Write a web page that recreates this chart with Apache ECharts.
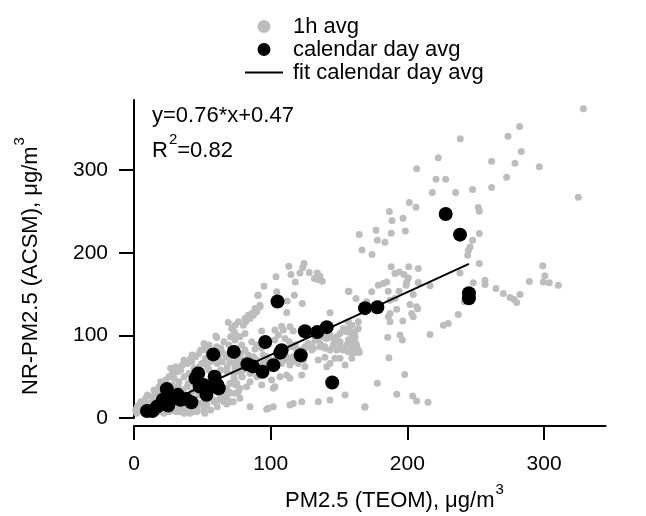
<!DOCTYPE html>
<html><head><meta charset="utf-8">
<script src="https://cdn.jsdelivr.net/npm/echarts@6/dist/echarts.min.js"></script>
<style>html,body{margin:0;padding:0;background:#fff}#c{width:646px;height:516px}</style>
</head><body><div id="c"></div><script>
// ---- data ----
const hourlyAvg = [
[328.7,374.5],[282.1,353],[273.6,341],[283.3,322.5],[261.6,310.8],[278.7,308.3],[296.5,304.3],[272.6,291.4],[247.7,276.5],[261.6,279],[325,267.2],[251.9,254.8],[252.6,250.3],[252.6,223.3],[247.7,215.2],[245.8,207.1],[252.6,187.1],[299,184.2],[300.6,172.1],[299.4,164.8],[303.8,163.6],[310.4,160.8],[289.2,165.3],[248.2,163.6],[256.8,166.9],[256.8,161.7],[264.8,156.8],[270.2,150.8],[275.1,146],[278,143.5],[280,139.9],[282.4,149.6],
[238.7,338.2],[222.6,315.2],[206.8,301.9],[220.9,289],[228,289],[218.2,272.9],[235.3,272.9],[201.4,260.8],[206.3,255.1],[186.8,249.9],[188.7,239],[196.8,241.8],[177,227.3],[188.2,223.7],[198.5,226.5],[164.8,222.1],[178,215.2],[183.6,212.8],[166.8,203.5],[174.1,197.9],[244.6,202.8],[244.1,197.1],[188.2,183],[194.1,176.9],[197.5,173.8],[200.7,169.6],[199.5,164.8],[199,160.8],[201,183],[208,181],[190.9,175],[184.9,164.8],[182.4,162.9],[178.7,160.8],[216.5,160],[208,164.1],[238.5,175.7],[241.6,140.6],[237.2,125.4],[229.9,114.5],[226.3,112.4],[216.5,101.2],[186,153.6],[187.3,142.7],[190.9,144.7],[201.9,137.5],[206.8,134.6],[207.5,132.2],[192.2,131.8],[187.3,126.6],[186,122.5],[187.3,116.4],[196.6,117.3],[203.1,126.6],[204.3,122.5],[185.6,97.9],[194.6,100.4],[196.3,94.3],[186.5,72.9],[198,52.8],[178,42],[192.2,28.7],[203.9,26.6],[206.8,20.6],[215.1,19],[154.4,27.8],[168.8,12.9],[156.8,153.6],[162.4,144.7],[173.9,152.7],[153.1,108.5],[155.6,104.4],[159.3,103.6],[161.7,92.3],[158,80.2],[161.7,79.4],[164.8,79.4],[150.7,92.3],[150.7,72.2],[164.1,116.4],[170.2,140.6],[178.7,138.7],[180,132.6],[193.9,153.6],[204.3,149.6],
[124.4,187.1],[123.4,182.2],[113.2,183.8],[114.8,173.8],[121.4,175.7],[128.2,176.2],[134.1,175.7],[136.1,171.7],[134.1,167.7],[137.7,165.7],[103.9,170.9],[118,164.8],[131.9,168.9],[95.1,159.6],[157.3,153.2],[104.4,152.7],[117.3,148.7],[90.9,148.7],[112.1,141.5],[123.1,138.7],[92.2,136.6],[89.8,128.5],[87.3,124.5],[84.9,120.6],[81.7,116.4],[80,112.4],[76.3,116.4],[73.9,112.4],[71.5,108.5],[88.5,132.6],[111.7,127.8],[143.4,127.4],[108,111.2],[109.2,106.4],[114.1,110.4],[116.5,105.2],[103.1,106.4],[105.6,100.4],[103.1,94.3],[93.4,105.2],[86.1,92.3],[89.8,88.3],[88.5,83.4],[93.4,84.3],[73.9,94.3],[78.8,88.3],[75.1,84.3],[81.2,82.2],[83.6,76.2],[94.6,76.2],[97.1,74.1],[98.2,70.1],[110.5,96.4],[113.6,92.3],[115.4,86.2],[117.8,88.3],[121.4,82.2],[125.1,86.2],[127.5,90.3],[130,88.3],[131.2,84.3],[132.4,94.3],[134.8,96.4],[138.5,98.3],[141,96.4],[143.4,100.4],[145.8,96.4],[148.3,98.3],[150.7,102.4],[136.1,86.2],[139.7,84.3],[143.4,82.2],[145.8,88.3],[148.3,82.2],[150.7,86.2],[153.1,82.2],[155.6,88.3],[159.3,84.3],[153.1,106.4],[156.8,108.5],[161.7,104.4],[159.3,100.4],[156.8,80.2],[159.3,72.2],[164.1,82.2],[134.8,70.1],[139.7,73.4],[143.4,66.1],[147,72.2],[111.7,74.1],[115.4,68.1],[119,70.1],[106.8,50],[111.7,52],[100.7,46],[125.1,62],[122.7,52],[114.1,48],[141,62],[143.4,21.8],[134.8,19.7],[122.7,19.7],[116.5,17.7],[114.1,15.7],[101.9,13.7],[98.2,11.7],[84.9,13.7],[72.6,19.7],[76.3,31.8],[77.5,35.9],[103.1,37.9],[84.9,43.9],[93.4,39.9],[156.8,116.4],[159.3,112.4],[164.1,108.5],[161.7,98.3],[159.3,92.3],[162.9,88.3],[154.4,64.1],
[59.8,99.2],[70.7,98.3],[73.2,104.4],[65.8,92.3],[69.5,88.3],[52.4,72.2],[56.1,68.1],[51.2,66.1],[53.6,62],[60.9,66.1],[64.6,68.1],[68.2,62],[73.2,66.1],[75.6,60.1],[63.4,58],[68.2,56],[73.2,54],[76.8,56],[79.2,50],[73.2,48],[70.7,42],[74.4,39.9],[69.5,31.8],[64.6,29.9],[67.1,25.8],[70.7,19.7],[68.2,21.8],[62.2,21.8],[58.5,19.7],[54.9,23.8],[52.4,19.7],[48.8,17.7],[51.2,13.7],[46.3,9.7],[42.6,7.7],[39,9.7],[36.6,5.7],[34.2,7.7],
[31.7,11.7],[29.3,9.7],[25.6,7.7],[21.9,5.7],[18.3,7.7],[14.6,9.7],[11,11.7],[7.3,9.7],[4.9,11.7],[3.7,15.7],[2.4,13.7],[6.1,15.7],[9.8,17.7],[13.4,19.7],[17,19.7],[4.9,19.7],[8.5,23.8],[13.4,25.8],[9.8,27.8],[15.9,29.9],[19.5,31.8],[14.6,33.9],[18.3,37.9],[21.9,39.9],[19.5,43.9],[23.2,46],[25.6,50],[29.3,48],[28,54],[31.7,56],[26.8,60.1],[30.5,62],[34.2,58],[35.3,64.1],[39,66.1],[36.6,70.1],[41.5,72.2],[45.1,74.1],[42.6,76.2],[47.5,78.2],[48.8,82.2],[52.4,84.3],[54.9,88.3],[51.2,90.3],
[24.4,25.8],[29.3,29.9],[34.2,33.9],[39,37.9],[43.9,42],[42.6,31.8],[47.5,27.8],[39,25.8],[34.2,21.8],[29.3,17.7],[24.4,15.7],[19.5,13.7],[36.6,50],[40.2,54],[32.9,43.9],[28,39.9],[24.4,35.9],[54.9,58],[58.5,42],[60.9,35.9],[62.2,29.9],[43.9,60.1],[47.5,62],[48.8,56],[56.1,80.2],[60.9,78.2],[63.4,84.3],[67.1,76.2],[62.2,74.1],[75.6,72.2],[78,78.2],[76.8,68.1],[65.8,19.7],[69.5,19.7],[56.1,9.7],[60.9,13.7],[51.2,7.7],[1.2,9.7],[2,5.7],
[69,115.7],[81.2,120.6],[83.6,124.5],[86.1,126.6],[89.8,130.6],[92.2,134.6],[90.5,148.7],[60.5,97.6],[51.9,82.2],[42.2,68.1],[49.5,66.1],[60.5,86.2],[64.2,80.2],[67.8,74.1],[70.2,68.1],[77.5,98.3],[81.2,102.4],[73.9,102.4],
[51.9,5.7],[67.8,16.9],[77.5,23.8],[73.9,29.9],[97.1,10.5],[169,13.7],[101.9,35.9],[82.4,37.9],[41,5.7],[31.2,7.7],[45.9,7.7],
[148.3,92.3],[156.8,94.3],[160.4,86.2],[139.7,86.2],[136.1,90.3],[130,82.2],[126.3,86.2],[119,82.2],[116.5,74.1],[111.7,70.1],[114.1,64.1],[120.2,66.1],[123.9,70.1],[108,66.1],[104.4,74.1],[99.5,70.1],[94.6,66.1],[89.8,70.1],[87.3,74.1],[80,70.1],[77.5,66.1],[73.9,60.1],[80,58],[84.9,54],[89.8,50],[78.8,50],[70.2,42],[75.1,42],[67.8,35.9],[70.2,29.9],[64.2,25.8],[58,21.8],[53.2,15.7],[45.9,13.7],[38.5,11.7],[33.7,13.7],[28.7,9.7],[19,9.7],[6.8,13.7],[4.4,9.7],[8,5.7],[36.1,33.9],[32.4,37.9],[39.7,42]
];
const dailyAvg = [
[9.5,8.5],[13.5,8.5],[17,14],[20.5,18],[21,22],[24,35],[25,15],[27,22],[27.5,24.5],[32,28],[34,22],[38,23],[42,19],[45,48],[47,54],[48,38],[51,40],[53,28],[57,38],[58,77],[59,50],[61,40],[62,36],[73,80],[83,65],[87,62.5],[94,56],[96,92],[102,64],[105,141],[107,79],[108,82],[122,76],[125,105],[134,104],[141,110],[145,43],[169,133],[178,134],[228,247],[238.5,222],[245,151],[245,145]
];
const fitLine = [[10, 8.07], [245, 186.7]];
const xTicks = [0, 100, 200, 300];
const yTicks = [0, 100, 200, 300];
const seriesNames = ['1h avg', 'calendar day avg', 'fit calendar day avg'];
const fitEquation = 'y=0.76*x+0.47';
const r2Value = '=0.82';
const xTitle = 'PM2.5 (TEOM), μg/m';
const yTitle = 'NR-PM2.5 (ACSM), μg/m';

// ---- rendering ----
const FONT = '"Liberation Sans", Arial, Helvetica, sans-serif';
const ctx = document.createElement('canvas').getContext('2d');
function tw(t, s) { ctx.font = s + 'px ' + FONT; return ctx.measureText(t).width; }
function txt(t, x, y, s) {
  return {type: 'text', x: x, y: y, style: {text: t, font: s + 'px ' + FONT, fill: '#000', align: 'left', verticalAlign: 'middle'}};
}
const MS = 22, SS = 15, SUPDY = -11.5;
const rW = tw('R', MS);
const graphics = [
  {type: 'group', x: 285, y: 501.4, children: [txt(xTitle, 0, 0, MS), txt('3', tw(xTitle, MS) + 1, SUPDY, SS)]},
  {type: 'group', x: 31.4, y: 395, rotation: Math.PI / 2, children: [txt(yTitle, 0, 0, MS), txt('3', tw(yTitle, MS) + 1, SUPDY, SS)]},
  {type: 'group', x: 152, y: 116.4, children: [txt(fitEquation, 0, 0, MS)]},
  {type: 'group', x: 152, y: 151.4, children: [txt('R', 0, 0, MS), txt('2', rW + 1, SUPDY, SS), txt(r2Value, rW + 1 + tw('2', SS), 0, MS)]}
];

const chart = echarts.init(document.getElementById('c'), null, {renderer: 'canvas'});
chart.setOption({
  animation: false,
  backgroundColor: '#fff',
  textStyle: {fontFamily: FONT, color: '#000'},
  grid: {left: 134, top: 100, right: 40.4, bottom: 98, containLabel: false},
  legend: {
    orient: 'vertical', left: 245, top: 15.5, padding: 0, itemWidth: 38, itemHeight: 13, itemGap: 1,
    data: [
      {name: seriesNames[0], icon: 'circle'},
      {name: seriesNames[1], icon: 'circle'},
      {name: seriesNames[2], icon: 'path://M0,0H38V2H0Z'}
    ],
    textStyle: {fontSize: 22, fontFamily: FONT, color: '#000', padding: [0, 0, 0, 5]}
  },
  xAxis: {
    type: 'value', min: 0, max: 345, offset: 8, position: 'bottom',
    axisLine: {onZero: false, lineStyle: {color: '#000', width: 2}},
    axisTick: {show: true, inside: false, length: 14, lineStyle: {color: '#000', width: 2}, customValues: xTicks},
    axisLabel: {fontSize: 21, color: '#000', margin: 28, fontFamily: FONT, customValues: xTicks},
    splitLine: {show: false}
  },
  yAxis: {
    type: 'value', min: 0, max: 385,
    axisLine: {show: true, lineStyle: {color: '#000', width: 2}},
    axisTick: {show: true, inside: false, length: 15, lineStyle: {color: '#000', width: 2}, customValues: yTicks},
    axisLabel: {fontSize: 21, color: '#000', margin: 26, fontFamily: FONT, customValues: yTicks},
    splitLine: {show: false}
  },
  series: [
    {name: seriesNames[0], type: 'scatter', data: hourlyAvg, symbol: 'circle', symbolSize: 7,
     itemStyle: {color: '#bdbdbd', opacity: 1}, z: 2, silent: true},
    {name: seriesNames[2], type: 'line', data: fitLine, symbol: 'none', showSymbol: false,
     lineStyle: {color: '#000', width: 2}, itemStyle: {color: '#000'}, z: 3, silent: true},
    {name: seriesNames[1], type: 'scatter', data: dailyAvg, symbol: 'circle', symbolSize: 14,
     itemStyle: {color: '#000', opacity: 1}, z: 4, silent: true}
  ],
  graphic: graphics
});
</script></body></html>
